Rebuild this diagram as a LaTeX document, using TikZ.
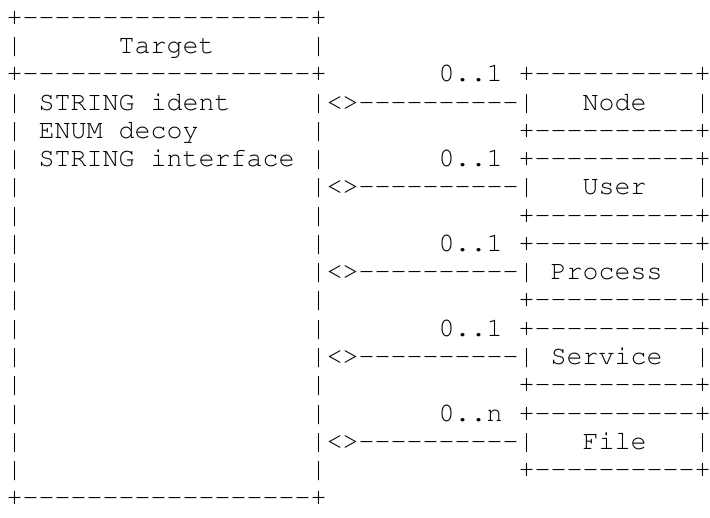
\documentclass[tikz,border=0pt]{standalone}
\usepackage[T1]{fontenc}
\usepackage{courier}
% Courier: 16pt character advance (0.6em) and a 28.26pt line pitch
\newcommand\asciifont{\ttfamily\fontsize{26.67}{28.26}\selectfont}
% runs of hyphens kept apart so that no en/em-dash ligature forms
\newcommand\dten{-{}-{}-{}-{}-{}-{}-{}-{}-{}-{}}
\newcommand\deighteen{-{}-{}-{}-{}-{}-{}-{}-{}-{}-{}-{}-{}-{}-{}-{}-{}-{}-{}}
\begin{document}
\begin{tikzpicture}[x=1pt,y=1pt,
  asciirow/.style={anchor=base west, inner sep=0pt, outer sep=0pt, font=\asciifont, text=black}]
  \fill[white] (0,0) rectangle (710,-518);
  \useasboundingbox (0,0) rectangle (710,-518);
  \def\lx{6.5}
  \def\pitch{28.26}
  \def\top{25.4}
  % Target class box with its attributes, and the five associated classes
  \node[asciirow] (r1)  at (\lx,{-(\top+0*\pitch)})  {+\deighteen+};
  \node[asciirow] (r2)  at (\lx,{-(\top+1*\pitch)})  {|~~~~~~Target~~~~~~|};
  \node[asciirow] (r3)  at (\lx,{-(\top+2*\pitch)})  {+\deighteen+~~~~~~~0..1~+\dten+};
  \node[asciirow] (r4)  at (\lx,{-(\top+3*\pitch)})  {|~STRING~ident~~~~~|<>\dten|~~~Node~~~|};
  \node[asciirow] (r5)  at (\lx,{-(\top+4*\pitch)})  {|~ENUM~decoy~~~~~~~|~~~~~~~~~~~~+\dten+};
  \node[asciirow] (r6)  at (\lx,{-(\top+5*\pitch)})  {|~STRING~interface~|~~~~~~~0..1~+\dten+};
  \node[asciirow] (r7)  at (\lx,{-(\top+6*\pitch)})  {|~~~~~~~~~~~~~~~~~~|<>\dten|~~~User~~~|};
  \node[asciirow] (r8)  at (\lx,{-(\top+7*\pitch)})  {|~~~~~~~~~~~~~~~~~~|~~~~~~~~~~~~+\dten+};
  \node[asciirow] (r9)  at (\lx,{-(\top+8*\pitch)})  {|~~~~~~~~~~~~~~~~~~|~~~~~~~0..1~+\dten+};
  \node[asciirow] (r10) at (\lx,{-(\top+9*\pitch)})  {|~~~~~~~~~~~~~~~~~~|<>\dten|~Process~~|};
  \node[asciirow] (r11) at (\lx,{-(\top+10*\pitch)}) {|~~~~~~~~~~~~~~~~~~|~~~~~~~~~~~~+\dten+};
  \node[asciirow] (r12) at (\lx,{-(\top+11*\pitch)}) {|~~~~~~~~~~~~~~~~~~|~~~~~~~0..1~+\dten+};
  \node[asciirow] (r13) at (\lx,{-(\top+12*\pitch)}) {|~~~~~~~~~~~~~~~~~~|<>\dten|~Service~~|};
  \node[asciirow] (r14) at (\lx,{-(\top+13*\pitch)}) {|~~~~~~~~~~~~~~~~~~|~~~~~~~~~~~~+\dten+};
  \node[asciirow] (r15) at (\lx,{-(\top+14*\pitch)}) {|~~~~~~~~~~~~~~~~~~|~~~~~~~0..n~+\dten+};
  \node[asciirow] (r16) at (\lx,{-(\top+15*\pitch)}) {|~~~~~~~~~~~~~~~~~~|<>\dten|~~~File~~~|};
  \node[asciirow] (r17) at (\lx,{-(\top+16*\pitch)}) {|~~~~~~~~~~~~~~~~~~|~~~~~~~~~~~~+\dten+};
  \node[asciirow] (r18) at (\lx,{-(\top+17*\pitch)}) {+\deighteen+};
\end{tikzpicture}
\end{document}
